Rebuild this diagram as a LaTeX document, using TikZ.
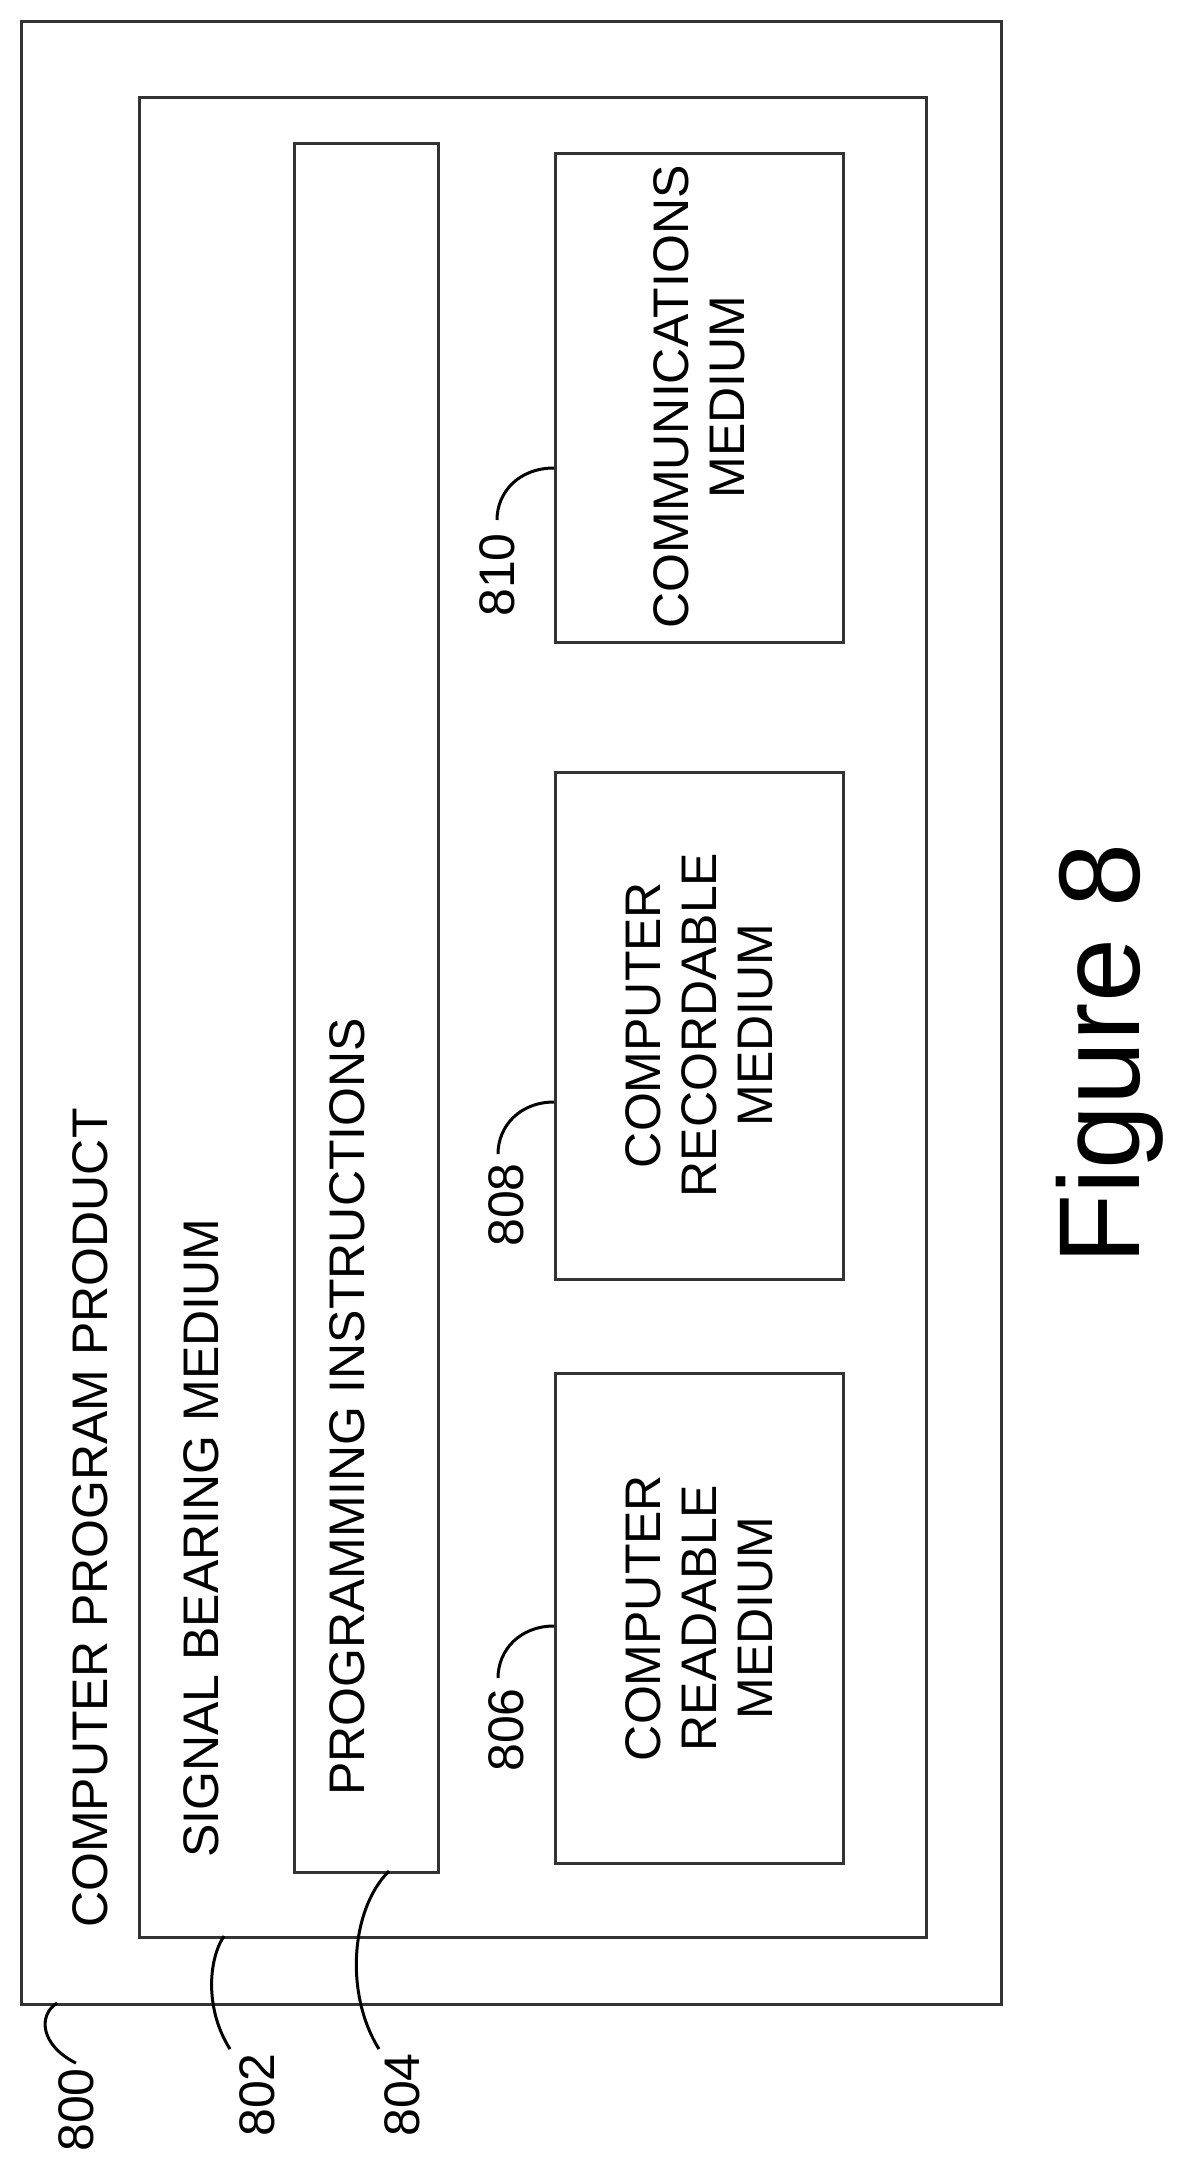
\documentclass[tikz,border=0pt]{standalone}
\usepackage{fontspec}
\setmainfont{Liberation Sans}
\begin{document}
\begin{tikzpicture}[x=1pt,y=-1pt,
  frame/.style={draw=black!80,line width=3pt},
  txt/.style={font=\fontsize{50}{56}\selectfont,rotate=90,inner sep=0pt},
  btxt/.style={txt,align=center},
  lead/.style={draw=black,line width=3pt}]
\useasboundingbox (0,0) rectangle (1179,2172);
\draw[frame] (21,21) rectangle (1001,2004);
\draw[frame] (139,97) rectangle (926,1937);
\draw[frame] (294,143) rectangle (438,1872);
\draw[frame] (555,153) rectangle (843,642);
\draw[frame] (555,772) rectangle (843,1279);
\draw[frame] (555,1373) rectangle (843,1863);
\node[txt,anchor=west] (t0) at (90,1928) {COMPUTER PROGRAM PRODUCT};
\node[txt,anchor=west] (t2) at (201,1858) {SIGNAL BEARING MEDIUM};
\node[txt,anchor=west] (t4) at (347,1796) {PROGRAMMING INSTRUCTIONS};
\node[btxt] (b6) at (699,1618) {COMPUTER\\READABLE\\MEDIUM};
\node[btxt] (b8) at (699,1025) {COMPUTER\\RECORDABLE\\MEDIUM};
\node[btxt] (b10) at (699,397) {COMMUNICATIONS\\MEDIUM};
\node[txt] (l800) at (76,2110) {800};
\node[txt] (l802) at (257,2095) {802};
\node[txt] (l804) at (402,2095) {804};
\node[txt] (l806) at (506,1730) {806};
\node[txt] (l808) at (506,1205) {808};
\node[txt] (l810) at (497,575) {810};
\coordinate (a800) at (57,2003);
\coordinate (a802) at (224,1936);
\coordinate (a804) at (389,1871);
\coordinate (a806) at (554,1626);
\coordinate (a808) at (554,1102);
\coordinate (a810) at (554,468);
\draw[lead] (l800.east) ++(0,-5) .. controls (40,2045) and (38,2015) .. (a800);
\draw[lead] (230,2049) .. controls (205,2010) and (208,1960) .. (a802);
\draw[lead] (379,2049) .. controls (345,1995) and (350,1910) .. (a804);
\draw[lead] (498,1678) .. controls (498,1650) and (520,1626) .. (a806);
\draw[lead] (498,1154) .. controls (498,1126) and (520,1102) .. (a808);
\draw[lead] (497,520) .. controls (497,492) and (519,468) .. (a810);
\node[font=\fontsize{115}{120}\selectfont,rotate=90,inner sep=0pt] (fig) at (1110,1054) {Figure 8};
\end{tikzpicture}
\end{document}
